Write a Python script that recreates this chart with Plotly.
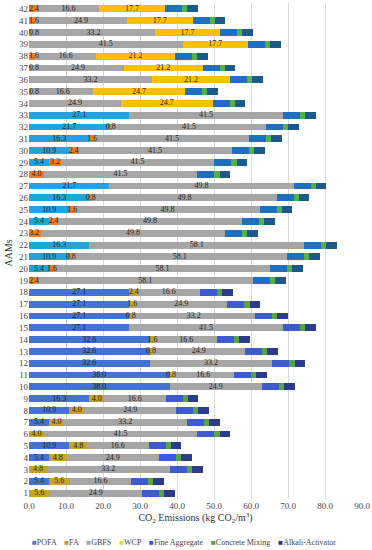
import plotly.graph_objects as go

# ---- data (rows AAM 1..42) ----
aams = list(range(1, 43))
pofa = [0, 5.4, 0, 5.4, 10.9, 0, 5.4, 10.9, 16.3, 38.0,
        38.0, 32.6, 32.6, 32.6, 27.1, 27.1, 27.1, 27.1, 0, 5.4,
        10.9, 16.3, 0, 5.4, 10.9, 16.3, 21.7, 0, 5.4, 10.9,
        16.3, 21.7, 27.1, 0, 0, 0, 0, 0, 0, 0,
        0, 0]
fa = [5.6, 5.6, 4.8, 4.8, 4.8, 4.0, 4.0, 4.0, 4.0, 0,
      0.8, 0, 0.8, 1.6, 0, 0.8, 1.6, 2.4, 2.4, 1.6,
      0.8, 0, 3.2, 2.4, 1.6, 0.8, 0, 4.0, 3.2, 2.4,
      1.6, 0.8, 0, 0, 0.8, 0, 0.8, 1.6, 0, 0.8,
      1.6, 2.4]
gbfs = [24.9, 16.6, 33.2, 24.9, 16.6, 41.5, 33.2, 24.9, 16.6, 24.9,
        16.6, 33.2, 24.9, 16.6, 41.5, 33.2, 24.9, 16.6, 58.1, 58.1,
        58.1, 58.1, 49.8, 49.8, 49.8, 49.8, 49.8, 41.5, 41.5, 41.5,
        41.5, 41.5, 41.5, 24.9, 16.6, 33.2, 24.9, 16.6, 41.5, 33.2,
        24.9, 16.6]
wcp = [0]*33 + [24.7, 24.7, 21.2, 21.2, 21.2, 17.7, 17.7, 17.7, 17.7]
fine_agg = [4.6]*42
concrete_mixing = [1.4]*42
alkali_activator = [2.9]*42
x_ticks = [0, 10, 20, 30, 40, 50, 60, 70, 80, 90]
legend_names = ["POFA", "FA", "GBFS", "WCP", "Fine Aggregate", "Concrete Mixing", "Alkali-Activator"]

# ---- styles ----
upper = {"POFA": "#22A3DC", "FA": "#F47B20", "GBFS": "#A6A6A6", "WCP": "#FFC000",
         "Fine Aggregate": "#1F6FC0", "Concrete Mixing": "#55B04A", "Alkali-Activator": "#1D5A8C"}
lower = {"POFA": "#4472D2", "FA": "#C9A22C", "GBFS": "#A6A6A6", "WCP": "#FFC000",
         "Fine Aggregate": "#3D5ACF", "Concrete Mixing": "#58A548", "Alkali-Activator": "#2B3C8C"}
legend_cols = {"POFA": "#5B6FD6", "FA": "#B9A033", "GBFS": "#A6A6A6", "WCP": "#D6DE3E",
               "Fine Aggregate": "#3552CF", "Concrete Mixing": "#5A9E40", "Alkali-Activator": "#2A3A80"}

series = [("POFA", pofa, True), ("FA", fa, True), ("GBFS", gbfs, True), ("WCP", wcp, True),
          ("Fine Aggregate", fine_agg, False), ("Concrete Mixing", concrete_mixing, False),
          ("Alkali-Activator", alkali_activator, False)]

SERIF = "Liberation Serif, Times New Roman, serif"

fig = go.Figure()
base = [0.0]*42
lab_x, lab_y, lab_t, lab_pos = [], [], [], []
for name, vals, labelled in series:
    cols = [(lower if a <= 18 else upper)[name] for a in aams]
    fig.add_trace(go.Bar(
        y=aams, x=vals, orientation="h", name=name,
        marker=dict(color=cols, line=dict(width=0)),
        showlegend=False, hoverinfo="x+name",
    ))
    for i, v in enumerate(vals):
        if labelled and v > 0:
            if base[i] == 0 and v / 2 < 1.7:
                # keep label inside the plot area (starts at the axis)
                lab_x.append(0.0)
                lab_pos.append("middle right")
            else:
                lab_x.append(base[i] + v / 2)
                lab_pos.append("middle center")
            lab_y.append(aams[i])
            lab_t.append(f"{v:.1f}")
        base[i] += v

# value labels on top of all segments
fig.add_trace(go.Scatter(
    x=lab_x, y=lab_y, text=lab_t, mode="text", textposition=lab_pos,
    textfont=dict(family=SERIF, size=8, color="#222222"),
    showlegend=False, hoverinfo="skip", cliponaxis=False,
))

legend_html = "    ".join(
    f'<span style="color:{legend_cols[n]}">■</span>{n}' for n in legend_names)

fig.update_layout(
    barmode="stack", bargap=0.42,
    width=372, height=550,
    margin=dict(l=29, r=10, t=3, b=51),
    paper_bgcolor="white", plot_bgcolor="white",
    font=dict(family=SERIF, size=9, color="#333333"),
    xaxis=dict(range=[0, 90], tickvals=x_ticks, ticktext=[f"{t:.1f}" for t in x_ticks],
               showgrid=True, gridcolor="#D9D9D9", gridwidth=1, zeroline=False,
               showline=False, ticks="", tickfont=dict(size=9, family=SERIF, color="#444444"),
               title=dict(text="CO<sub>2</sub> Emissions (kg CO<sub>2</sub>/m<sup>3</sup>)",
                          font=dict(size=10, family=SERIF, color="#333333"), standoff=2),
               automargin=False),
    yaxis=dict(range=[0.5, 42.5], tickvals=aams, ticktext=[str(a) for a in aams],
               showgrid=False, zeroline=False, showline=False, ticks="",
               tickfont=dict(size=9, family=SERIF, color="#444444"),
               automargin=False),
    annotations=[
        dict(text=legend_html, xref="paper", yref="paper", x=0.465, y=-0.087,
             xanchor="center", yanchor="middle", showarrow=False,
             font=dict(size=8, family=SERIF, color="#444444")),
        dict(text="AAMs", xref="paper", yref="paper", x=-0.063, y=0.495,
             xanchor="center", yanchor="middle", showarrow=False, textangle=-90,
             font=dict(size=10, family=SERIF, color="#333333")),
    ],
)

fig.write_html("out.html", config={"displayModeBar": False},
               post_script="document.body.style.margin='0';")
